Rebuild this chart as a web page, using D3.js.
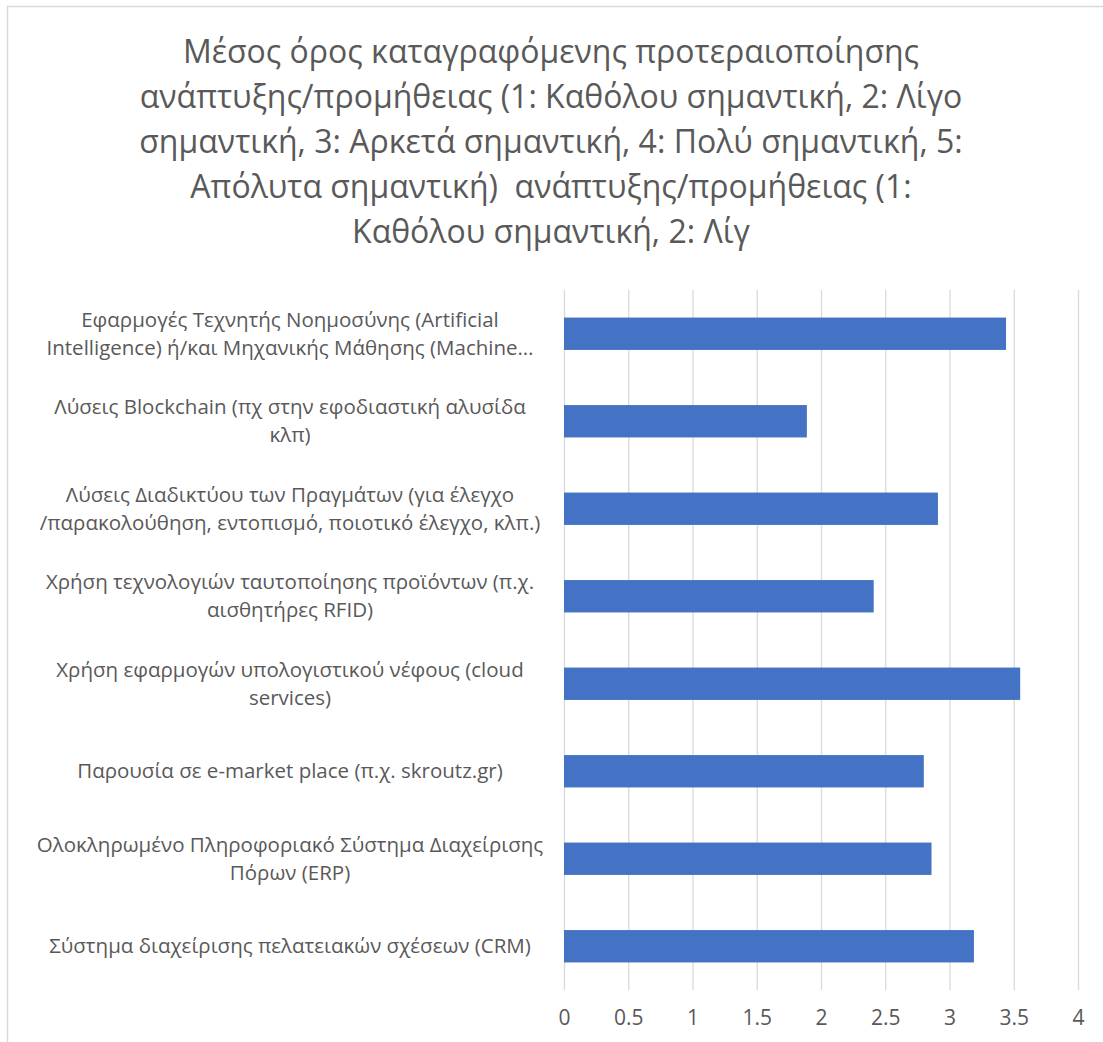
<!DOCTYPE html>
<html>
<head>
<meta charset="utf-8">
<script src="https://cdn.jsdelivr.net/npm/d3@7"></script>
<style>
  body { margin: 0; background: #fff; }
  svg { display: block; font-family: "Open Sans", "Noto Sans", sans-serif; }
  .title text { white-space: pre; }
</style>
</head>
<body>
<svg width="1103" height="1042"></svg>
<script>
var titleLines = [
  "Μέσος όρος καταγραφόμενης προτεραιοποίησης",
  "ανάπτυξης/προμήθειας (1: Καθόλου σημαντική, 2: Λίγο",
  "σημαντική, 3: Αρκετά σημαντική, 4: Πολύ σημαντική, 5:",
  "Απόλυτα σημαντική)  ανάπτυξης/προμήθειας (1:",
  "Καθόλου σημαντική, 2: Λίγ"
];

var categories = [
  ["Εφαρμογές Τεχνητής Νοημοσύνης (Artificial", "Intelligence) ή/και Μηχανικής Μάθησης (Machine…"],
  ["Λύσεις Blockchain (πχ στην εφοδιαστική αλυσίδα", "κλπ)"],
  ["Λύσεις Διαδικτύου των Πραγμάτων (για έλεγχο", "/παρακολούθηση, εντοπισμό, ποιοτικό έλεγχο, κλπ.)"],
  ["Χρήση τεχνολογιών ταυτοποίησης προϊόντων (π.χ.", "αισθητήρες RFID)"],
  ["Χρήση εφαρμογών υπολογιστικού νέφους (cloud", "services)"],
  ["Παρουσία σε e-market place (π.χ. skroutz.gr)"],
  ["Ολοκληρωμένο Πληροφοριακό Σύστημα Διαχείρισης", "Πόρων (ERP)"],
  ["Σύστημα διαχείρισης πελατειακών σχέσεων (CRM)"]
];

var values = [3.44, 1.89, 2.91, 2.41, 3.55, 2.80, 2.86, 3.19];

var xTicks = [0, 0.5, 1, 1.5, 2, 2.5, 3, 3.5, 4];

var svg = d3.select("svg"),
    margin = {top: 290, right: 25, bottom: 52, left: 564},
    width = 1103 - margin.left - margin.right,
    height = 1042 - margin.top - margin.bottom;

// chart border (only top and left edges are inside the picture)
svg.append("rect")
    .attr("x", 7.5).attr("y", 6.5)
    .attr("width", 1110).attr("height", 1100)
    .attr("fill", "none")
    .attr("stroke", "#d9d9d9")
    .attr("stroke-width", 1.5);

svg.append("g")
    .attr("class", "title")
  .selectAll("text")
  .data(titleLines)
  .enter().append("text")
    .attr("x", 551)
    .attr("y", function(d, i) { return 63 + i * 45; })
    .attr("text-anchor", "middle")
    .attr("fill", "#595959")
    .style("font-size", "32px")
    .text(function(d) { return d; });

var g = svg.append("g").attr("transform", "translate(" + margin.left + "," + margin.top + ")");

var x = d3.scaleLinear().domain([0, 4]).range([0, width]);
var y = d3.scaleBand()
    .domain(d3.range(categories.length))
    .range([0, height])
    .paddingInner(0.63)
    .paddingOuter(0.315);

// gridlines
g.append("g")
    .attr("class", "grid")
    .call(d3.axisBottom(x).tickValues(xTicks).tickSize(height).tickFormat(""))
    .call(function(s) { s.select(".domain").remove(); })
    .selectAll("line")
    .attr("stroke", "#d9d9d9")
    .attr("stroke-width", 1.3);

// x axis labels
g.append("g")
    .attr("class", "axis axis--x")
    .attr("transform", "translate(0," + height + ")")
    .call(d3.axisBottom(x).tickValues(xTicks).tickSize(0).tickPadding(20).tickFormat(d3.format("")))
    .call(function(s) { s.select(".domain").remove(); })
    .selectAll("text")
    .attr("fill", "#595959")
    .style("font-family", "\"Open Sans\", sans-serif")
    .style("font-size", "21px");

g.selectAll(".bar")
    .data(values)
    .enter().append("rect")
    .attr("class", "bar")
    .attr("x", x(0))
    .attr("y", function(d, i) { return y(i); })
    .attr("width", function(d) { return x(d) - x(0); })
    .attr("height", y.bandwidth())
    .attr("fill", "#4472c4");

// category labels
var lab = g.selectAll(".cat")
    .data(categories)
    .enter().append("text")
    .attr("class", "cat")
    .attr("text-anchor", "middle")
    .attr("fill", "#595959")
    .style("font-size", "20.5px")
    .attr("transform", function(d, i) { return "translate(" + (290 - margin.left) + "," + (y(i) + y.bandwidth() / 2) + ")"; });

lab.selectAll("tspan")
    .data(function(d) { return d.map(function(t, j) { return {t: t, j: j, n: d.length}; }); })
    .enter().append("tspan")
    .attr("x", 0)
    .attr("y", function(d) { return (d.j - (d.n - 1) / 2) * 28; })
    .attr("dy", "0.35em")
    .text(function(d) { return d.t; });
</script>
</body>
</html>
